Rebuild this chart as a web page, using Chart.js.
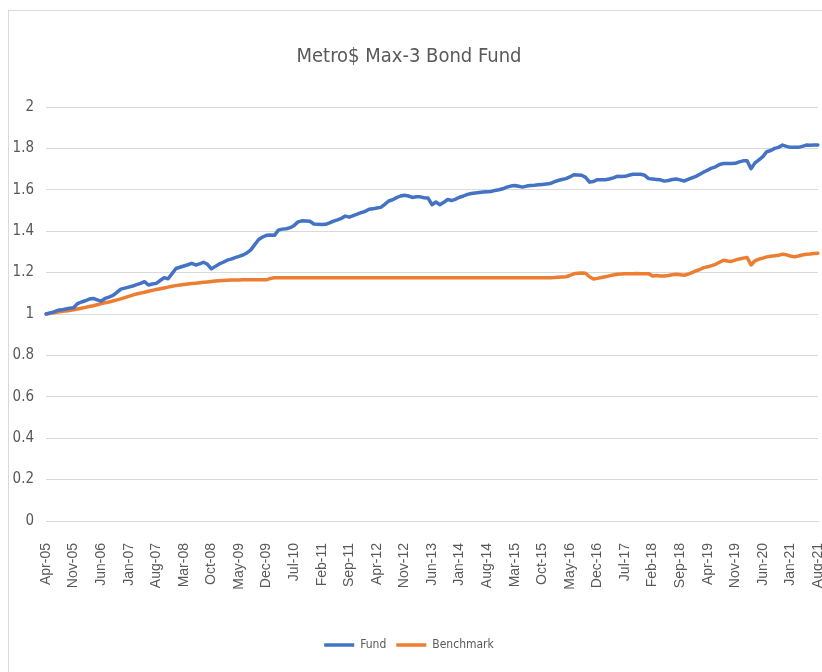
<!DOCTYPE html>
<html>
<head>
<meta charset="utf-8">
<script src="https://cdn.jsdelivr.net/npm/chart.js@4"></script>
<style>
  html, body { margin: 0; padding: 0; background: #fff; overflow: hidden; }
  #frame {
    position: absolute; left: 8px; top: 10px; width: 840px; height: 700px;
    border: 1px solid #d9d9d9; box-sizing: border-box;
  }
  #wrap { position: absolute; left: 0; top: 0; width: 822px; height: 672px; }
</style>
</head>
<body>
<div id="frame"></div>
<div id="wrap"><canvas id="chart"></canvas></div>
<script>
// 月末ごとの値 (Apr-05 〜 Aug-21, 1行 = 12か月)
const fund = [
  1.000, 1.005, 1.010, 1.018, 1.020, 1.024, 1.028, 1.030, 1.050, 1.058, 1.064, 1.072,
  1.075, 1.068, 1.062, 1.075, 1.082, 1.090, 1.105, 1.120, 1.125, 1.130, 1.135, 1.142,
  1.148, 1.156, 1.140, 1.145, 1.148, 1.162, 1.176, 1.170, 1.195, 1.220, 1.226, 1.232,
  1.238, 1.245, 1.237, 1.242, 1.250, 1.240, 1.218, 1.230, 1.242, 1.250, 1.260, 1.265,
  1.272, 1.278, 1.285, 1.295, 1.310, 1.335, 1.360, 1.372, 1.380, 1.382, 1.380, 1.405,
  1.410, 1.412, 1.417, 1.428, 1.445, 1.450, 1.449, 1.448, 1.435, 1.433, 1.432, 1.433,
  1.440, 1.449, 1.455, 1.462, 1.473, 1.468, 1.475, 1.482, 1.490, 1.495, 1.506, 1.508,
  1.512, 1.515, 1.530, 1.546, 1.552, 1.562, 1.570, 1.574, 1.570, 1.563, 1.566, 1.566,
  1.562, 1.560, 1.528, 1.541, 1.528, 1.540, 1.553, 1.548, 1.555, 1.564, 1.570, 1.578,
  1.582, 1.585, 1.587, 1.589, 1.590, 1.592, 1.597, 1.600, 1.605, 1.613, 1.618, 1.621,
  1.617, 1.613, 1.618, 1.621, 1.622, 1.624, 1.626, 1.628, 1.630, 1.638, 1.645, 1.650,
  1.654, 1.662, 1.673, 1.672, 1.670, 1.660, 1.637, 1.640, 1.649, 1.648, 1.649, 1.652,
  1.658, 1.665, 1.664, 1.665, 1.670, 1.675, 1.675, 1.675, 1.670, 1.654, 1.652, 1.650,
  1.648, 1.642, 1.645, 1.650, 1.652, 1.648, 1.642, 1.650, 1.658, 1.665, 1.675, 1.686,
  1.695, 1.705, 1.711, 1.722, 1.727, 1.727, 1.727, 1.728, 1.735, 1.740, 1.740, 1.702,
  1.730, 1.745, 1.760, 1.784, 1.790, 1.800, 1.805, 1.816, 1.810, 1.805, 1.805, 1.805,
  1.810, 1.816, 1.815, 1.816, 1.816,
];

const benchmark = [
  1.000, 1.003, 1.006, 1.009, 1.012, 1.015, 1.017, 1.020, 1.024, 1.028, 1.032, 1.036,
  1.040, 1.045, 1.050, 1.054, 1.058, 1.063, 1.068, 1.073, 1.079, 1.085, 1.091, 1.097,
  1.101, 1.105, 1.110, 1.114, 1.118, 1.122, 1.126, 1.130, 1.134, 1.137, 1.140, 1.143,
  1.145, 1.147, 1.149, 1.151, 1.153, 1.155, 1.157, 1.159, 1.161, 1.162, 1.163, 1.164,
  1.164, 1.164, 1.165, 1.165, 1.165, 1.165, 1.165, 1.165, 1.165, 1.172, 1.175, 1.175,
  1.175, 1.175, 1.175, 1.175, 1.175, 1.175, 1.175, 1.175, 1.175, 1.175, 1.175, 1.175,
  1.175, 1.175, 1.175, 1.175, 1.175, 1.175, 1.175, 1.175, 1.175, 1.175, 1.175, 1.175,
  1.175, 1.175, 1.175, 1.175, 1.175, 1.175, 1.175, 1.175, 1.175, 1.175, 1.175, 1.175,
  1.175, 1.175, 1.175, 1.175, 1.175, 1.175, 1.175, 1.175, 1.175, 1.175, 1.175, 1.175,
  1.175, 1.175, 1.175, 1.175, 1.175, 1.175, 1.175, 1.175, 1.175, 1.175, 1.175, 1.175,
  1.175, 1.175, 1.175, 1.175, 1.175, 1.175, 1.175, 1.175, 1.175, 1.176, 1.178, 1.179,
  1.180, 1.186, 1.194, 1.197, 1.198, 1.197, 1.180, 1.169, 1.172, 1.176, 1.180, 1.184,
  1.188, 1.192, 1.193, 1.194, 1.195, 1.195, 1.196, 1.195, 1.195, 1.195, 1.184, 1.186,
  1.184, 1.184, 1.186, 1.190, 1.192, 1.190, 1.187, 1.192, 1.200, 1.208, 1.215, 1.224,
  1.228, 1.234, 1.240, 1.250, 1.260, 1.256, 1.254, 1.260, 1.266, 1.270, 1.273, 1.237,
  1.257, 1.265, 1.270, 1.276, 1.279, 1.281, 1.284, 1.289, 1.286, 1.280, 1.276, 1.280,
  1.285, 1.289, 1.290, 1.292, 1.294,
];

const monthNames = ['Jan', 'Feb', 'Mar', 'Apr', 'May', 'Jun', 'Jul', 'Aug', 'Sep', 'Oct', 'Nov', 'Dec'];
const startYear = 2005;
const startMonth = 3;     // Apr
const labelStep = 7;      // 7か月ごとにラベル表示

// 横軸ラベル (Apr-05, May-05, ...)
const labels = fund.map((_, i) => {
  const m = startMonth + i;
  const yy = String((startYear + Math.floor(m / 12)) % 100).padStart(2, '0');
  return monthNames[m % 12] + '-' + yy;
});

const narrow = "'Liberation Sans Narrow', 'DejaVu Sans Condensed', sans-serif";
const textColor = '#595959';
const gridColor = '#d9d9d9';

new Chart(document.getElementById('chart'), {
  type: 'line',
  data: {
    labels: labels,
    datasets: [
      {
        label: 'Fund',
        data: fund,
        borderColor: '#4472c4',
        backgroundColor: '#4472c4',
        borderWidth: 3.5,
        pointRadius: 0,
        borderJoinStyle: 'round',
        borderCapStyle: 'round',
      },
      {
        label: 'Benchmark',
        data: benchmark,
        borderColor: '#ed7d31',
        backgroundColor: '#ed7d31',
        borderWidth: 3.5,
        pointRadius: 0,
        borderJoinStyle: 'round',
        borderCapStyle: 'round',
      },
    ],
  },
  options: {
    responsive: true,
    maintainAspectRatio: false,
    animation: false,
    layout: {
      padding: { left: 0, right: 4, top: 0, bottom: 11 },
    },
    scales: {
      x: {
        grid: { display: false },
        border: { color: gridColor },
        ticks: {
          autoSkip: false,
          minRotation: 90,
          maxRotation: 90,
          padding: 14,
          color: textColor,
          font: { family: "'Liberation Sans', Arial, sans-serif", size: 14 },
          callback: (val, i) => (i % labelStep === 0 ? labels[i] : ''),
        },
        afterFit: (scale) => {
          scale.height = 108;
          scale.paddingLeft = 0;
          scale.paddingRight = 0;
        },
      },
      y: {
        min: 0,
        max: 2,
        grid: { color: gridColor, drawTicks: false },
        border: { display: false },
        ticks: {
          stepSize: 0.2,
          padding: 12,
          color: textColor,
          font: { family: narrow, size: 15 },
          callback: (v) => String(Number(v.toFixed(1))),
        },
        afterFit: (scale) => {
          scale.width = 46;
        },
      },
    },
    plugins: {
      title: {
        display: true,
        text: 'Metro$ Max-3 Bond Fund',
        color: textColor,
        font: { family: narrow, size: 20, weight: 'normal' },
        padding: { top: 45, bottom: 38 },
      },
      legend: {
        position: 'bottom',
        labels: {
          usePointStyle: true,
          pointStyle: 'line',
          pointStyleWidth: 30,
          padding: 10,
          color: textColor,
          font: { family: narrow, size: 12 },
        },
      },
      tooltip: { enabled: false },
    },
  },
});
</script>
</body>
</html>
